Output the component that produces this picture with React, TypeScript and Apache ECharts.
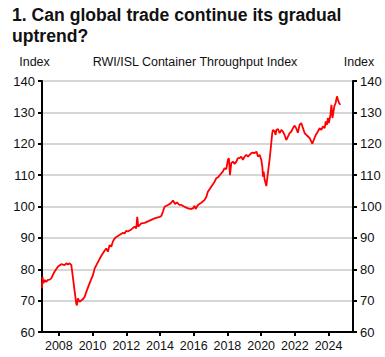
import React, { useEffect, useRef } from "react";
import * as echarts from "echarts";

const titleLines = ["1. Can global trade continue its gradual", "uptrend?"];
const subtitle = "RWI/ISL Container Throughput Index";
const axisUnit = "Index";

const yearTicks = [2008, 2010, 2012, 2014, 2016, 2018, 2020, 2022, 2024];

const years = [
  2007.0, 2007.03, 2007.09, 2007.15, 2007.25, 2007.35, 2007.45, 2007.55, 2007.64, 2007.74,
  2007.94, 2008.14, 2008.34, 2008.44, 2008.53, 2008.64, 2008.74, 2008.83, 2008.93, 2009.03,
  2009.07, 2009.13, 2009.23, 2009.33, 2009.42, 2009.53, 2009.63, 2009.82, 2010.02, 2010.12,
  2010.31, 2010.52, 2010.71, 2010.81, 2010.91, 2011.01, 2011.11, 2011.2, 2011.31, 2011.41,
  2011.6, 2011.8, 2011.9, 2012.0, 2012.09, 2012.3, 2012.49, 2012.59, 2012.65, 2012.71,
  2012.89, 2013.09, 2013.38, 2013.68, 2013.98, 2014.08, 2014.17, 2014.27, 2014.47, 2014.63,
  2014.77, 2014.9, 2015.0, 2015.15, 2015.26, 2015.46, 2015.66, 2015.86, 2015.95, 2016.05,
  2016.11, 2016.25, 2016.45, 2016.65, 2016.75, 2016.84, 2017.04, 2017.24, 2017.34, 2017.44,
  2017.64, 2017.73, 2017.83, 2017.93, 2018.03, 2018.09, 2018.15, 2018.23, 2018.33, 2018.43,
  2018.53, 2018.62, 2018.72, 2018.82, 2018.92, 2019.02, 2019.12, 2019.22, 2019.32, 2019.42,
  2019.51, 2019.61, 2019.72, 2019.81, 2019.91, 2020.01, 2020.07, 2020.11, 2020.15, 2020.21,
  2020.31, 2020.34, 2020.4, 2020.5, 2020.56, 2020.6, 2020.66, 2020.7, 2020.8, 2020.86,
  2020.9, 2021.0, 2021.1, 2021.2, 2021.29, 2021.39, 2021.49, 2021.59, 2021.69, 2021.79,
  2021.89, 2021.99, 2022.09, 2022.18, 2022.28, 2022.38, 2022.48, 2022.58, 2022.68, 2022.78,
  2022.88, 2022.98, 2023.04, 2023.12, 2023.24, 2023.37, 2023.47, 2023.57, 2023.67, 2023.77,
  2023.83, 2023.9, 2023.96, 2024.02, 2024.11, 2024.17, 2024.23, 2024.28, 2024.34, 2024.42,
  2024.5, 2024.56, 2024.62, 2024.7,
];

const throughput = [
  73.9, 77.6, 75.5, 76.6, 76.0, 76.6, 76.7, 77.1, 78.1, 79.2,
  80.8, 81.6, 81.3, 81.9, 81.5, 81.9, 81.3, 77.6, 73.3, 69.1,
  68.5, 70.7, 69.6, 70.1, 70.4, 71.2, 72.8, 75.5, 78.1, 80.2,
  82.2, 84.3, 85.9, 86.6, 85.6, 87.7, 87.2, 88.8, 89.8, 90.3,
  90.9, 91.6, 91.4, 92.3, 92.0, 92.7, 93.6, 93.0, 96.7, 93.6,
  94.6, 94.8, 95.5, 96.2, 96.7, 97.0, 98.3, 99.9, 100.5, 101.0,
  101.9, 100.8, 101.3, 100.5, 100.5, 99.9, 99.4, 99.2, 99.4, 100.2,
  99.2, 100.5, 101.2, 102.1, 103.1, 104.7, 106.3, 107.9, 109.0, 109.3,
  110.6, 111.1, 112.2, 111.9, 114.9, 115.4, 110.0, 113.8, 114.3, 113.6,
  114.3, 115.4, 115.4, 115.9, 114.9, 115.9, 116.5, 115.9, 116.5, 117.0,
  117.2, 117.0, 117.5, 115.9, 116.5, 114.9, 112.7, 109.5, 111.1, 108.5,
  106.5, 107.9, 110.6, 114.9, 118.0, 120.2, 123.4, 124.4, 123.9, 122.8,
  124.4, 124.7, 123.4, 124.4, 123.9, 122.8, 121.2, 122.3, 123.4, 123.9,
  125.0, 125.8, 124.8, 123.5, 126.0, 126.6, 125.0, 123.4, 122.8, 122.3,
  121.8, 120.7, 120.0, 121.2, 122.8, 123.9, 125.0, 124.4, 125.5, 125.0,
  127.1, 126.0, 128.2, 126.6, 129.2, 132.4, 128.2, 129.8, 131.9, 133.0,
  135.1, 134.0, 133.0, 132.4,
];

const FONT = "Liberation Sans, Arial, sans-serif";

export default function App() {
  const ref = useRef<HTMLDivElement>(null);
  useEffect(() => {
    if (!ref.current) return;
    const chart = echarts.init(ref.current, null, { renderer: "svg" });
    const yAxisBase = {
      type: "value",
      min: 60,
      max: 140,
      interval: 10,
      axisLine: { show: true, lineStyle: { color: "#000", width: 2 } },
      axisTick: { show: true, inside: false, length: 4, lineStyle: { color: "#000", width: 2 } },
      axisLabel: { color: "#111", fontSize: 13, fontFamily: FONT, margin: 7 },
    };
    chart.setOption({
      animation: false,
      backgroundColor: "#fff",
      grid: { left: 42, right: 32, top: 81, bottom: 25, containLabel: false },
      graphic: [
        { type: "text", left: 12, top: 6, style: { text: titleLines[0], font: `bold 17.6px ${FONT}`, fill: "#111" } },
        { type: "text", left: 12, top: 27, style: { text: titleLines[1], font: `bold 17.6px ${FONT}`, fill: "#111" } },
        { type: "text", x: 34.5, y: 62, style: { text: axisUnit, font: `12.5px ${FONT}`, fill: "#111", align: "center", verticalAlign: "middle" } },
        { type: "text", x: 195, y: 62, style: { text: subtitle, font: `12.5px ${FONT}`, fill: "#111", align: "center", verticalAlign: "middle" } },
        { type: "text", x: 359, y: 62, style: { text: axisUnit, font: `12.5px ${FONT}`, fill: "#111", align: "center", verticalAlign: "middle" } },
      ],
      xAxis: {
        type: "value",
        min: 2007,
        max: 2025.45,
        splitLine: { show: false },
        axisLine: { show: true, onZero: false, lineStyle: { color: "#000", width: 2 } },
        axisTick: { show: true, length: 4, customValues: yearTicks, lineStyle: { color: "#000", width: 2 } },
        axisLabel: {
          customValues: yearTicks,
          formatter: (v: number) => String(v),
          color: "#111",
          fontSize: 12.5,
          fontFamily: FONT,
          margin: 7,
        },
      },
      yAxis: [
        {
          ...yAxisBase,
          position: "left",
          splitLine: { show: true, lineStyle: { color: "#c8c8c8", width: 1.5 } },
        },
        {
          ...yAxisBase,
          position: "right",
          splitLine: { show: false },
        },
      ],
      series: [
        {
          type: "line",
          data: years.map((y, i) => [y, throughput[i]]),
          showSymbol: false,
          lineStyle: { color: "#ff0000", width: 1.8 },
          itemStyle: { color: "#ff0000" },
        },
      ],
    });
    return () => chart.dispose();
  }, []);
  return <div ref={ref} style={{ width: 385, height: 357, position: "absolute", left: 0, top: 0 }} />;
}
